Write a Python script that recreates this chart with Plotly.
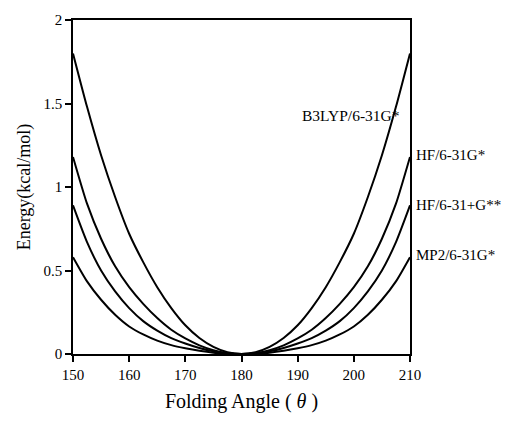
import plotly.graph_objects as go

angle = [150, 152.5, 155, 157.5, 160, 162.5, 165, 167.5, 170, 172.5, 175, 177.5, 180,
         182.5, 185, 187.5, 190, 192.5, 195, 197.5, 200, 202.5, 205, 207.5, 210]

b3lyp = [1.80, 1.48, 1.19, 0.94, 0.72, 0.55, 0.40, 0.275, 0.172, 0.096, 0.043, 0.011, 0.0,
         0.011, 0.043, 0.096, 0.172, 0.275, 0.40, 0.55, 0.72, 0.94, 1.19, 1.48, 1.80]
hf = [1.18, 0.90, 0.69, 0.525, 0.40, 0.30, 0.215, 0.145, 0.093, 0.052, 0.023, 0.006, 0.0,
      0.006, 0.023, 0.052, 0.093, 0.145, 0.215, 0.30, 0.40, 0.525, 0.69, 0.90, 1.18]
hf_plus = [0.89, 0.67, 0.50, 0.375, 0.275, 0.197, 0.14, 0.095, 0.063, 0.036, 0.016, 0.004, 0.0,
           0.004, 0.016, 0.036, 0.063, 0.095, 0.14, 0.197, 0.275, 0.375, 0.50, 0.67, 0.89]
mp2 = [0.58, 0.435, 0.325, 0.235, 0.165, 0.117, 0.08, 0.053, 0.034, 0.019, 0.008, 0.002, 0.0,
       0.002, 0.008, 0.019, 0.034, 0.053, 0.08, 0.117, 0.165, 0.235, 0.325, 0.435, 0.58]

series_names = ["B3LYP/6-31G*", "HF/6-31G*", "HF/6-31+G**", "MP2/6-31G*"]
series_vals = [b3lyp, hf, hf_plus, mp2]

x_ticks = [150, 160, 170, 180, 190, 200, 210]
y_ticks = [0, 0.5, 1, 1.5, 2]
y_tick_labels = ["0", "0.5", "1", "1.5", "2"]

FONT = "Liberation Serif, Times New Roman, serif"

fig = go.Figure()
for name, vals in zip(series_names, series_vals):
    fig.add_trace(go.Scatter(x=angle, y=vals, mode="lines", name=name,
                             line=dict(color="black", width=2, shape="spline", smoothing=0.6),
                             showlegend=False, cliponaxis=True))

# labels
fig.add_annotation(x=208.6, y=1.43, xref="x", yref="y", text="B3LYP/6-31G*",
                   showarrow=False, xanchor="right", yanchor="middle",
                   font=dict(family=FONT, size=15.5, color="black"))
label_pos = [("HF/6-31G*", 1.19), ("HF/6-31+G**", 0.89), ("MP2/6-31G*", 0.595)]
for txt, yv in label_pos:
    fig.add_annotation(x=1.012, y=yv, xref="paper", yref="y", text=txt,
                       showarrow=False, xanchor="left", yanchor="middle",
                       font=dict(family=FONT, size=15, color="black"))

fig.update_layout(
    width=507, height=422,
    margin=dict(l=73, r=97, t=15, b=68),
    paper_bgcolor="white", plot_bgcolor="white",
    font=dict(family=FONT, color="black", size=15),
)
fig.update_xaxes(range=[150, 210], tickvals=x_ticks, ticks="outside", ticklen=6,
                 tickwidth=1.5, tickcolor="black", showline=True, linecolor="black",
                 linewidth=1.5, mirror=True, showgrid=False, zeroline=False,
                 title=dict(text="Folding Angle ( <i>θ</i> )", font=dict(size=20), standoff=12),
                 tickfont=dict(size=15))
fig.update_yaxes(range=[0, 2], tickvals=y_ticks, ticktext=y_tick_labels, ticks="outside",
                 ticklen=6, tickwidth=1.5, tickcolor="black", showline=True, linecolor="black",
                 linewidth=1.5, mirror=True, showgrid=False, zeroline=False,
                 title=dict(text="Energy(kcal/mol)", font=dict(size=18), standoff=8),
                 tickfont=dict(size=15))

fig.write_html("out.html")
